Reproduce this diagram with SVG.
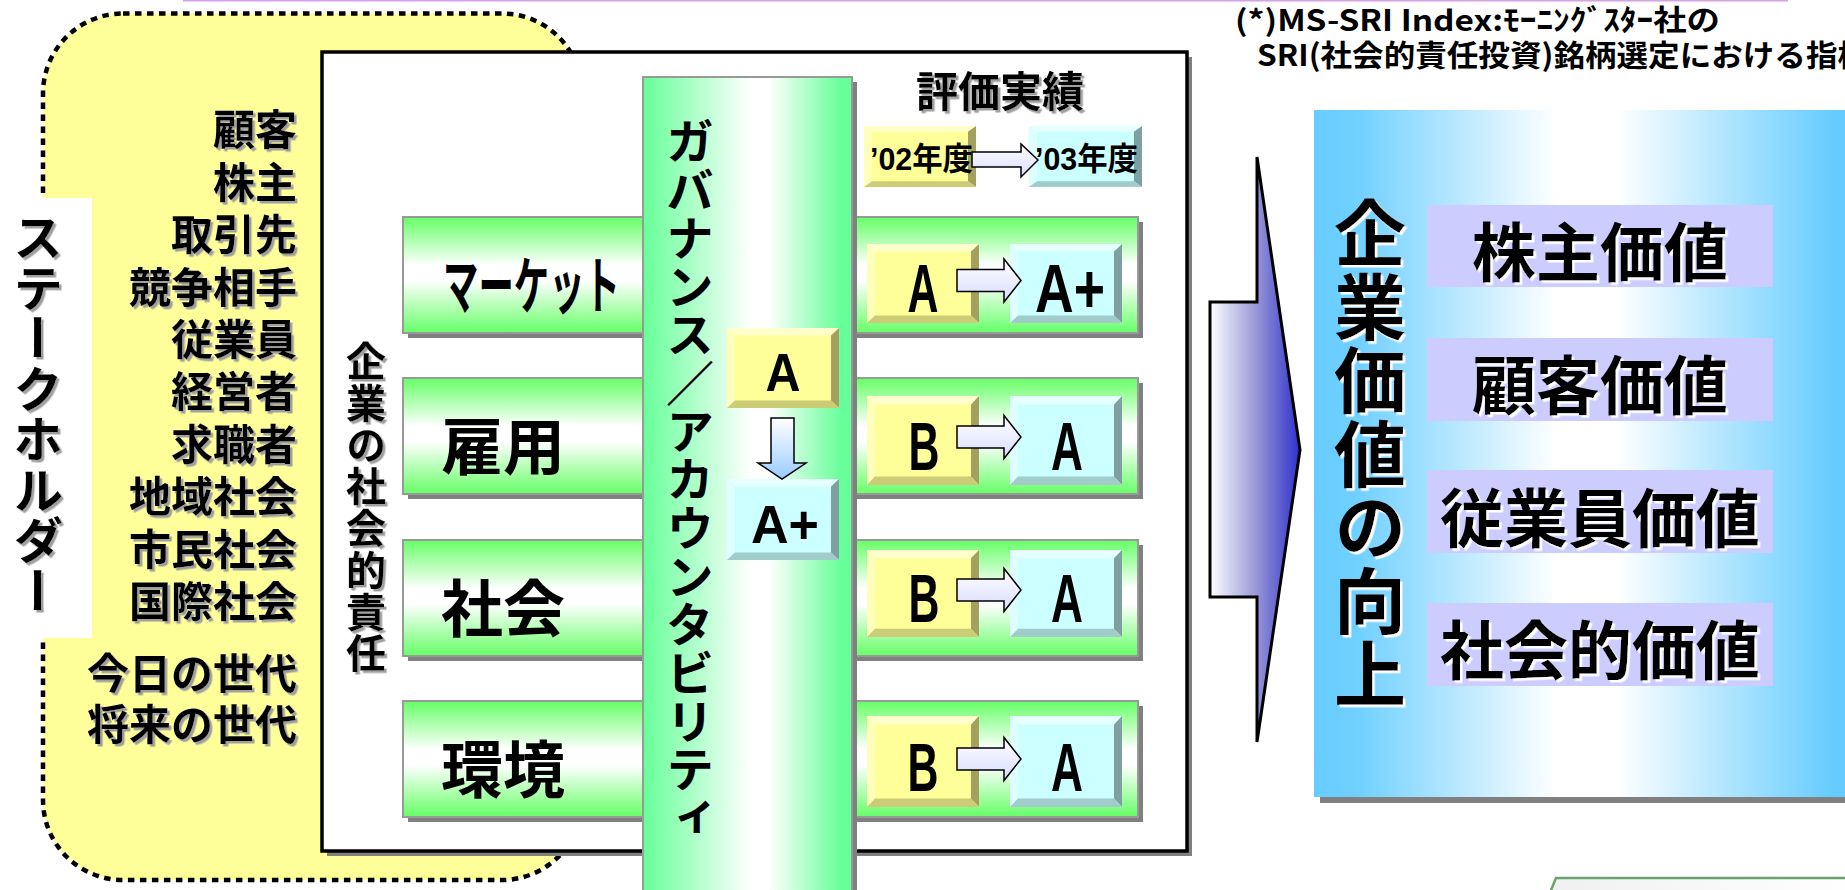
<svg xmlns="http://www.w3.org/2000/svg" width="1845" height="890" viewBox="0 0 1845 890">
<style>
.jp{font-family:"Noto Sans CJK JP","Liberation Sans",sans-serif;font-weight:bold;fill:#000}
.sh{font-size:42px;text-anchor:end}
.vt{writing-mode:vertical-rl}
.row{font-size:62px}
.gr{font-family:"Liberation Sans","Noto Sans CJK JP",sans-serif;font-weight:bold;font-size:68px;text-anchor:middle}
.gg{font-family:"Liberation Sans","Noto Sans CJK JP",sans-serif;font-weight:bold;font-size:53px;text-anchor:middle}
.lg{font-family:"Liberation Sans","Noto Sans CJK JP",sans-serif;font-weight:bold;font-size:32px}
.val{font-size:64px;text-anchor:middle}
.arr{stroke:#000;stroke-width:1.5;fill:url(#gArr)}
.shadow{fill:#808080}
.green{fill:url(#gRow);stroke:#999;stroke-width:2}
.lav{fill:#CCCCFF}
</style>
<defs>
<linearGradient id="gRow" x1="0" y1="0" x2="0" y2="1">
<stop offset="0" stop-color="#66FF66"/><stop offset="0.42" stop-color="#FFFFFF"/><stop offset="0.55" stop-color="#FFFFFF"/><stop offset="1" stop-color="#66FF66"/>
</linearGradient>
<linearGradient id="gGov" x1="0" y1="0" x2="1" y2="0">
<stop offset="0" stop-color="#66FF99"/><stop offset="0.52" stop-color="#FFFFFF"/><stop offset="0.6" stop-color="#FFFFFF"/><stop offset="0.95" stop-color="#66FF99"/>
</linearGradient>
<linearGradient id="gBlue" x1="0" y1="0" x2="1" y2="0">
<stop offset="0" stop-color="#66CCFF"/><stop offset="0.08" stop-color="#70D0FF"/><stop offset="0.45" stop-color="#FFFFFF"/><stop offset="0.56" stop-color="#FFFFFF"/><stop offset="0.96" stop-color="#66CCFF"/>
</linearGradient>
<linearGradient id="gBig" x1="0" y1="0" x2="1" y2="0">
<stop offset="0" stop-color="#FFFFFF"/><stop offset="0.5" stop-color="#9A9AD8"/><stop offset="1" stop-color="#3030CC"/>
</linearGradient>
<linearGradient id="gArr" x1="0" y1="0" x2="0" y2="1">
<stop offset="0" stop-color="#FFFFFF"/><stop offset="1" stop-color="#D8DCFF"/>
</linearGradient>
<linearGradient id="gDown" x1="0" y1="0" x2="0" y2="1">
<stop offset="0" stop-color="#FFFFFF"/><stop offset="1" stop-color="#99CCFF"/>
</linearGradient>
<linearGradient id="gGray" x1="0" y1="0" x2="1" y2="0">
<stop offset="0" stop-color="#F0F0F0"/><stop offset="1" stop-color="#FFFFFF"/>
</linearGradient>
<filter id="tsG" x="-10%" y="-10%" width="130%" height="130%">
<feDropShadow dx="2.5" dy="2.5" stdDeviation="0" flood-color="#A0A0A0" flood-opacity="1"/>
</filter>
<filter id="tsW" x="-10%" y="-10%" width="130%" height="130%">
<feDropShadow dx="2.5" dy="2.5" stdDeviation="0" flood-color="#FFFFFF" flood-opacity="1"/>
</filter>
<symbol id="yb" viewBox="0 0 112 85" preserveAspectRatio="none">
<rect width="112" height="85" fill="#FFFF99"/>
<polygon points="0,0 112,0 104,8 8,8" fill="#FFFFCC"/>
<polygon points="0,0 8,8 8,77 0,85" fill="#FFFFBB"/>
<polygon points="112,0 112,85 104,77 104,8" fill="#A3A060"/>
<polygon points="0,85 8,77 104,77 112,85" fill="#CCCC77"/>
</symbol>
<symbol id="cb" viewBox="0 0 112 85" preserveAspectRatio="none">
<rect width="112" height="85" fill="#CCFFFF"/>
<polygon points="0,0 112,0 104,8 8,8" fill="#E6FFFF"/>
<polygon points="0,0 8,8 8,77 0,85" fill="#DDFFFF"/>
<polygon points="112,0 112,85 104,77 104,8" fill="#7FA0A0"/>
<polygon points="0,85 8,77 104,77 112,85" fill="#A0CCCC"/>
</symbol>
<path id="rowArrow" d="M957,-11 H1004 V-21.5 L1021,0 L1004,21.5 V11 H957 Z"/>
</defs>

<rect x="183" y="0" width="1605" height="1.5" fill="#D8A0E8"/>

<g id="stakeholders">
<rect x="43" y="13.5" width="539" height="866.5" rx="80" ry="80" fill="#FFFF99" stroke="#000" stroke-width="4.5" stroke-dasharray="6.5 5.5"/>
<rect x="0" y="198" width="92" height="440" fill="#FFFFFF"/>
<text class="jp vt" x="38" y="212" font-size="50" letter-spacing="0.5" filter="url(#tsG)">ステークホルダー</text>
<g class="jp sh" filter="url(#tsG)">
<text x="297" y="145">顧客</text>
<text x="297" y="198">株主</text>
<text x="297" y="250">取引先</text>
<text x="297" y="303">競争相手</text>
<text x="297" y="355">従業員</text>
<text x="297" y="407">経営者</text>
<text x="297" y="460">求職者</text>
<text x="297" y="512">地域社会</text>
<text x="297" y="565">市民社会</text>
<text x="297" y="617">国際社会</text>
<text x="297" y="689">今日の世代</text>
<text x="297" y="740">将来の世代</text>
</g>
</g>

<g id="csr-frame">
<rect x="327" y="57" width="865" height="799" class="shadow"/>
<rect x="322" y="52" width="865" height="799" fill="#FFFFFF" stroke="#000" stroke-width="3.5"/>
<text class="jp vt" x="366" y="341" font-size="40" letter-spacing="1.75" filter="url(#tsG)">企業の社会的責任</text>
</g>

<g id="row-market">
<rect x="408" y="222" width="735" height="116" class="shadow"/>
<rect x="403" y="217" width="735" height="116" class="green"/>
<text class="jp row" x="443" y="309" textLength="177" lengthAdjust="spacingAndGlyphs">マーケット</text>
</g>
<g id="row-employment">
<rect x="408" y="383" width="735" height="116" class="shadow"/>
<rect x="403" y="378" width="735" height="116" class="green"/>
<text class="jp row" x="441" y="470">雇用</text>
</g>
<g id="row-society">
<rect x="408" y="545" width="735" height="116" class="shadow"/>
<rect x="403" y="540" width="735" height="116" class="green"/>
<text class="jp row" x="441" y="632">社会</text>
</g>
<g id="row-environment">
<rect x="408" y="706" width="735" height="116" class="shadow"/>
<rect x="403" y="701" width="735" height="116" class="green"/>
<text class="jp row" x="441" y="793">環境</text>
</g>

<g id="governance">
<rect x="648" y="82" width="209" height="830" class="shadow"/>
<rect x="643" y="77" width="209" height="830" fill="url(#gGov)" stroke="#999" stroke-width="2"/>
<text class="jp vt" x="690" y="117" font-size="48" letter-spacing="0.3">ガバナンス／アカウンタビリティ</text>
</g>
<g id="gov-02">
<use href="#yb" x="727" y="328" width="112" height="80"/>
<text class="gg" x="783" y="391" textLength="35" lengthAdjust="spacingAndGlyphs">A</text>
</g>
<g id="gov-03">
<use href="#cb" x="727" y="479" width="112" height="81"/>
<text class="gg" x="785" y="543" textLength="68" lengthAdjust="spacingAndGlyphs">A+</text>
</g>

<g id="evaluation-title">
<text class="jp" x="1000" y="107" font-size="42" text-anchor="middle" filter="url(#tsG)">評価実績</text>
</g>
<g id="legend-02">
<use href="#yb" x="864" y="126" width="112" height="61"/>
<text class="lg" x="870" y="170" textLength="103" lengthAdjust="spacingAndGlyphs">’02年度</text>
</g>
<g id="legend-03">
<use href="#cb" x="1029" y="126" width="113" height="61"/>
<text class="lg" x="1035" y="170" textLength="103" lengthAdjust="spacingAndGlyphs">’03年度</text>
</g>

<g id="market-02"><use href="#yb" x="867" y="244" width="112" height="79"/><text class="gr" x="923" y="312" textLength="31" lengthAdjust="spacingAndGlyphs">A</text></g>
<g id="market-03"><use href="#cb" x="1010" y="244" width="112" height="79"/><text class="gr" x="1070" y="312" textLength="70" lengthAdjust="spacingAndGlyphs">A+</text></g>
<g id="employment-02"><use href="#yb" x="867" y="396" width="112" height="89"/><text class="gr" x="924" y="470" textLength="31" lengthAdjust="spacingAndGlyphs">B</text></g>
<g id="employment-03"><use href="#cb" x="1010" y="396" width="112" height="89"/><text class="gr" x="1067" y="470" textLength="32" lengthAdjust="spacingAndGlyphs">A</text></g>
<g id="society-02"><use href="#yb" x="867" y="550" width="112" height="87"/><text class="gr" x="924" y="622" textLength="31" lengthAdjust="spacingAndGlyphs">B</text></g>
<g id="society-03"><use href="#cb" x="1010" y="550" width="112" height="87"/><text class="gr" x="1067" y="622" textLength="32" lengthAdjust="spacingAndGlyphs">A</text></g>
<g id="environment-02"><use href="#yb" x="867" y="716" width="112" height="91"/><text class="gr" x="923" y="791" textLength="31" lengthAdjust="spacingAndGlyphs">B</text></g>
<g id="environment-03"><use href="#cb" x="1010" y="716" width="112" height="91"/><text class="gr" x="1067" y="791" textLength="32" lengthAdjust="spacingAndGlyphs">A</text></g>

<g id="corporate-value">
<rect x="1320" y="116" width="540" height="687" class="shadow"/>
<rect x="1314" y="110" width="540" height="687" fill="url(#gBlue)"/>
<text class="jp vt" x="1370" y="197" font-size="72" letter-spacing="1.5" filter="url(#tsW)">企業価値の向上</text>
</g>
<g id="value-shareholder"><rect x="1427" y="205" width="346" height="82" class="lav"/><text class="jp val" x="1600" y="276" filter="url(#tsW)">株主価値</text></g>
<g id="value-customer"><rect x="1427" y="338" width="346" height="83" class="lav"/><text class="jp val" x="1600" y="409" filter="url(#tsW)">顧客価値</text></g>
<g id="value-employee"><rect x="1427" y="470" width="346" height="83" class="lav"/><text class="jp val" x="1600" y="542" filter="url(#tsW)">従業員価値</text></g>
<g id="value-social"><rect x="1427" y="603" width="346" height="83" class="lav"/><text class="jp val" x="1600" y="674" filter="url(#tsW)">社会的価値</text></g>

<g id="connectors">
<path class="arr" d="M972,152 H1021 V144 L1038,160 L1021,177 V167 H972 Z"/>
<use href="#rowArrow" y="280.5" class="arr"/>
<use href="#rowArrow" y="437" class="arr"/>
<use href="#rowArrow" y="590" class="arr"/>
<use href="#rowArrow" y="759" class="arr"/>
<path d="M771,418 H794 V463 H806 L782,479 L758,463 H771 Z" fill="url(#gDown)" stroke="#000" stroke-width="1.5"/>
<path d="M1210,302 H1257 V157 L1300,450 L1257,742 V597 H1210 Z" fill="url(#gBig)" stroke="#000" stroke-width="3" stroke-linejoin="miter"/>
</g>

<g id="note" class="jp">
<text x="1235" y="31" font-size="29" textLength="485" lengthAdjust="spacingAndGlyphs">(*)MS-SRI  Index:ﾓｰﾆﾝｸﾞｽﾀｰ社の</text>
<text x="1257" y="66" font-size="30" textLength="612" lengthAdjust="spacingAndGlyphs">SRI(社会的責任投資)銘柄選定における指標</text>
</g>

<g id="bottom-box">
<path d="M1549,895 L1556,878 H1860 V895 Z" fill="url(#gGray)" stroke="#6AA36A" stroke-width="2.5"/>
</g>
</svg>
